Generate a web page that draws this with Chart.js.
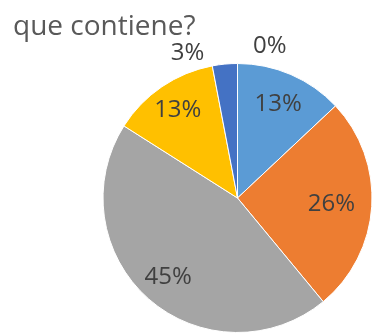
<!DOCTYPE html>
<html>
<head>
<meta charset="utf-8">
<script src="https://cdn.jsdelivr.net/npm/chart.js@4.4.1/dist/chart.umd.min.js"></script>
<style>
  html, body { margin: 0; padding: 0; background: #ffffff; }
  #wrap { position: relative; width: 374px; height: 336px; }
</style>
</head>
<body>
<div id="wrap"><canvas id="chart" width="374" height="336"></canvas></div>
<script>
// Survey answers, in slice order (clockwise from 12 o'clock)
const categories = ['Opción 1', 'Opción 2', 'Opción 3', 'Opción 4', 'Opción 5', 'Opción 6'];
const shares = [13, 26, 45, 13, 3, 0];
const sliceColors = ['#5B9BD5', '#ED7D31', '#A5A5A5', '#FFC000', '#4472C4', '#70AD47'];
const titleLine = 'que contiene?';

// Where each percentage label sits: fraction of the radius and optional fixed angle (deg, clockwise from top)
const labelPlacement = [
  { r: 0.76 },
  { r: 0.70 },
  { r: 0.78 },
  { r: 0.79 },
  { r: 1.14, deg: -19 },
  { r: 1.155, deg: 12 }
];

const FONT = '"Open Sans", "Liberation Sans", sans-serif';

const percentLabels = {
  id: 'percentLabels',
  afterDatasetsDraw(chart) {
    const ctx = chart.ctx;
    const meta = chart.getDatasetMeta(0);
    const data = chart.data.datasets[0].data;
    const total = data.reduce((a, b) => a + b, 0);
    ctx.save();
    ctx.font = '24px ' + FONT;
    ctx.fillStyle = '#404040';
    ctx.textAlign = 'center';
    ctx.textBaseline = 'middle';
    meta.data.forEach((arc, i) => {
      const p = arc.getProps(['x', 'y', 'startAngle', 'endAngle', 'outerRadius'], true);
      const place = labelPlacement[i];
      let ang = (p.startAngle + p.endAngle) / 2;
      if (place.deg !== undefined) ang = (place.deg - 90) * Math.PI / 180;
      const rr = p.outerRadius * place.r;
      const x = p.x + Math.cos(ang) * rr;
      const y = p.y + Math.sin(ang) * rr;
      const pct = Math.round(data[i] / total * 100) + '%';
      ctx.fillText(pct, x, y);
    });
    ctx.restore();
  }
};

const headline = {
  id: 'headline',
  afterDraw(chart) {
    const ctx = chart.ctx;
    ctx.save();
    ctx.font = '28px ' + FONT;
    ctx.fillStyle = '#595959';
    ctx.textAlign = 'left';
    ctx.textBaseline = 'alphabetic';
    ctx.fillText(titleLine, 13, 35);
    ctx.restore();
  }
};

new Chart(document.getElementById('chart'), {
  type: 'pie',
  data: {
    labels: categories,
    datasets: [{
      data: shares,
      backgroundColor: sliceColors,
      borderColor: '#ffffff',
      borderWidth: 1
    }]
  },
  options: {
    responsive: false,
    animation: false,
    devicePixelRatio: 1,
    layout: { padding: { left: 102, right: 1, top: 63, bottom: 3 } },
    plugins: {
      legend: { display: false },
      tooltip: { enabled: false },
      title: { display: false }
    }
  },
  plugins: [percentLabels, headline]
});
</script>
</body>
</html>
